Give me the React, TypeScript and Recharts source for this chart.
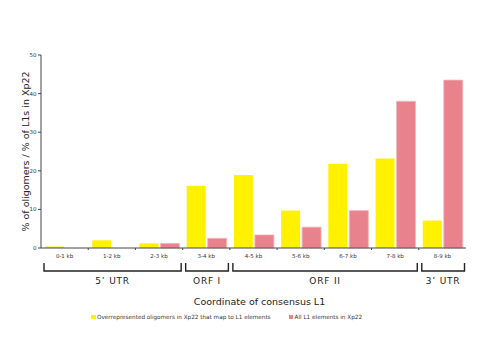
import React from 'react';
import { BarChart, Bar, XAxis, YAxis, Legend, Customized, Label } from 'recharts';

const categories = ['0-1 kb', '1-2 kb', '2-3 kb', '3-4 kb', '4-5 kb', '5-6 kb', '6-7 kb', '7-8 kb', '8-9 kb'];
const oligomers = [0.4, 2.0, 1.2, 16.1, 18.9, 9.7, 21.8, 23.2, 7.1];
const allL1 = [0, 0, 1.2, 2.5, 3.4, 5.4, 9.7, 38.0, 43.5];
const yTicks = [0, 10, 20, 30, 40, 50];
const groupLabels = ['5\u2019 UTR', 'ORF I', 'ORF II', '3\u2019 UTR'];
const groupStarts = [0, 3, 4, 8];
const groupEnds = [2, 3, 7, 8];
const seriesNames = ['Overrepresented oligomers in Xp22 that map to L1 elements', 'All L1 elements in Xp22'];

const data = categories.map((c, i) => ({ cat: c, olig: oligomers[i], l1: allL1[i] }));

const W = 490;
const H = 350;
const MARGIN = { top: 55, right: 24, bottom: 42, left: 21 };
const Y_W = 20;
const X_H = 60;
const FONT = '"DejaVu Sans", Verdana, sans-serif';
const YELLOW = '#FFF100';
const PINK = '#E8838D';

const plotLeft = MARGIN.left + Y_W;
const plotRight = W - MARGIN.right;
const plotBottom = H - MARGIN.bottom - X_H;
const band = (plotRight - plotLeft) / categories.length;

const Brackets = () => {
  const top = plotBottom + 15;
  const bot = plotBottom + 23;
  return (
    <g>
      {categories.slice(1).map((c, i) => {
        const bx = plotLeft + (i + 1) * band;
        return <line key={c} x1={bx} x2={bx} y1={plotBottom} y2={plotBottom + 2} stroke="#444" strokeWidth={1} />;
      })}
      {groupLabels.map((lab, i) => {
        const x1 = plotLeft + groupStarts[i] * band + 3;
        const x2 = plotLeft + (groupEnds[i] + 1) * band - 1.5;
        return (
          <g key={lab}>
            <path d={`M${x1},${top}L${x1},${bot}L${x2},${bot}L${x2},${top}`} fill="none" stroke="#222" strokeWidth={1.4} />
            <text x={(x1 + x2) / 2} y={bot + 12.5} textAnchor="middle" fontSize={9} letterSpacing={0.8} fill="#222" fontFamily={FONT}>
              {lab}
            </text>
          </g>
        );
      })}
    </g>
  );
};

const LegendContent = () => (
  <div style={{ display: 'flex', alignItems: 'center', fontFamily: FONT, fontSize: 5.7, color: '#333', whiteSpace: 'nowrap' }}>
    {seriesNames.map((n, i) => (
      <div key={n} style={{ display: 'flex', alignItems: 'center', marginRight: 18 }}>
        <span style={{ display: 'inline-block', width: 4.5, height: 4.5, background: i === 0 ? YELLOW : PINK, marginRight: 1.5 }} />
        <span>{n}</span>
      </div>
    ))}
  </div>
);

export default function App() {
  return (
    <div style={{ position: 'absolute', left: 0, top: 0, width: W, height: H, background: '#fff' }}>
      <BarChart width={W} height={H} data={data} margin={MARGIN} barSize={19} barGap={2}>
        <XAxis
          dataKey="cat"
          height={X_H}
          axisLine={{ stroke: '#444', strokeWidth: 1 }}
          tickLine={false}
          tickSize={2}
          tickMargin={4.5}
          tick={{ fontSize: 5.5, fill: '#333', fontFamily: FONT }}
          interval={0}
        >
          <Label
            content={(props: any) => {
              const vb = props.viewBox || {};
              return (
                <text x={vb.x + vb.width / 2 + 6} y={vb.y + vb.height - 3} textAnchor="middle" fontSize={9.5} fill="#222" fontFamily={FONT}>
                  Coordinate of consensus L1
                </text>
              );
            }}
          />
        </XAxis>
        <YAxis
          width={Y_W}
          domain={[0, 50]}
          ticks={yTicks}
          axisLine={{ stroke: '#444', strokeWidth: 1 }}
          tickLine={{ stroke: '#444' }}
          tickSize={3}
          tickMargin={1.5}
          tick={{ fontSize: 5.5, fill: '#333', fontFamily: FONT }}
        >
          <Label
            content={(props: any) => {
              const vb = props.viewBox || {};
              const cx = vb.x + 7.5;
              const cy = vb.y + vb.height / 2;
              return (
                <text x={cx} y={cy} transform={`rotate(-90, ${cx}, ${cy})`} textAnchor="middle" fontSize={9.5} fill="#222" fontFamily={FONT}>
                  % of oligomers / % of L1s in Xp22
                </text>
              );
            }}
          />
        </YAxis>
        <Legend
          layout="horizontal"
          verticalAlign="middle"
          align="center"
          wrapperStyle={{ left: 91, top: 314, width: 'auto' }}
          content={<LegendContent />}
        />
        <Bar dataKey="olig" name={seriesNames[0]} fill={YELLOW} isAnimationActive={false} />
        <Bar dataKey="l1" name={seriesNames[1]} fill={PINK} stroke="#F4B6BB" strokeWidth={0.8} isAnimationActive={false} />
        <Customized component={<Brackets />} />
      </BarChart>
    </div>
  );
}
